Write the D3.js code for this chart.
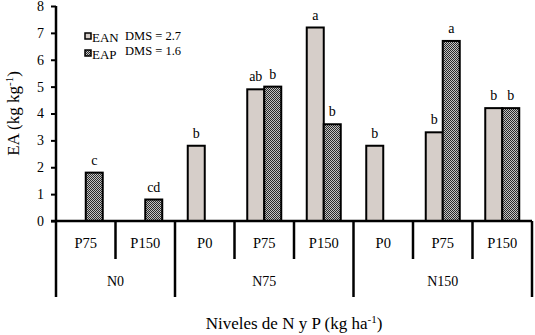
<!DOCTYPE html>
<html>
<head>
<meta charset="utf-8">
<script src="https://cdn.jsdelivr.net/npm/d3@7"></script>
<style>
  body { margin: 0; background: #fff; }
  svg text { font-family: "Liberation Serif", "Times New Roman", serif; }
</style>
</head>
<body>
<div id="chart"></div>
<script>
// groups of N levels and their P levels
const groups = ["N0", "N75", "N150"];
const categories = [
    { n: "N0", p: "P75" }, { n: "N0", p: "P150" },
    { n: "N75", p: "P0" }, { n: "N75", p: "P75" }, { n: "N75", p: "P150" },
    { n: "N150", p: "P0" }, { n: "N150", p: "P75" }, { n: "N150", p: "P150" },
];
const series = ["EAN", "EAP"];
const eanValues = [null, null, 2.8, 4.9, 7.2, 2.8, 3.3, 4.2];
const eapValues = [1.8, 0.8, null, 5.0, 3.6, null, 6.7, 4.2];
const eanLetters = ["", "", "b", "ab", "a", "b", "b", "b"];
const eapLetters = ["c", "cd", "", "b", "b", "", "a", "b"];
const dmsLabels = ["DMS = 2.7", "DMS = 1.6"];
const yTicks = [0, 1, 2, 3, 4, 5, 6, 7, 8];

const width = 535, height = 335;
const margin = { top: 6, right: 3, bottom: 114, left: 56 };
const plotBottom = height - margin.bottom;

const svg = d3.select("#chart").append("svg")
    .attr("width", width)
    .attr("height", height);

const defs = svg.append("defs");
const pat = defs.append("pattern")
    .attr("id", "checker")
    .attr("width", 2).attr("height", 2)
    .attr("patternUnits", "userSpaceOnUse");
pat.append("rect").attr("width", 2).attr("height", 2).attr("fill", "#c4c4c4");
pat.append("rect").attr("width", 1).attr("height", 1).attr("fill", "#2a2a2a");
pat.append("rect").attr("x", 1).attr("y", 1).attr("width", 1).attr("height", 1).attr("fill", "#2a2a2a");

const fills = { EAN: "#d6cec9", EAP: "url(#checker)" };

const x = d3.scaleBand()
    .domain(d3.range(categories.length))
    .range([margin.left, width - margin.right])
    .padding(0);

const xInner = d3.scaleBand()
    .domain(series)
    .range([0, x.bandwidth()])
    .paddingInner(0)
    .paddingOuter(0.75);

const y = d3.scaleLinear()
    .domain([0, 8])
    .range([plotBottom, margin.top]);

// bars
const rows = [];
categories.forEach((c, i) => {
    rows.push({ i, s: "EAN", v: eanValues[i], l: eanLetters[i] });
    rows.push({ i, s: "EAP", v: eapValues[i], l: eapLetters[i] });
});
const present = rows.filter(d => d.v != null);

svg.append("g").selectAll("rect")
    .data(present)
    .join("rect")
    .attr("x", d => x(d.i) + xInner(d.s))
    .attr("y", d => y(d.v))
    .attr("width", xInner.bandwidth())
    .attr("height", d => y(0) - y(d.v))
    .attr("fill", d => fills[d.s])
    .attr("stroke", "#000")
    .attr("stroke-width", 2);

svg.append("g").selectAll("text")
    .data(present.filter(d => d.l))
    .join("text")
    .attr("x", d => x(d.i) + xInner(d.s) + xInner.bandwidth() / 2)
    .attr("y", d => y(d.v) - 8)
    .attr("text-anchor", "middle")
    .attr("font-size", 14)
    .text(d => d.l);

// y axis
const yAxis = svg.append("g")
    .attr("transform", `translate(${margin.left},0)`)
    .call(d3.axisLeft(y).tickValues(yTicks).tickSize(5).tickPadding(7).tickFormat(d3.format("d")));
yAxis.selectAll("text").attr("font-size", 14).attr("fill", "#000");
yAxis.selectAll("line").attr("stroke", "#000").attr("stroke-width", 2);
yAxis.select(".domain").remove();

const lines = svg.append("g").attr("stroke", "#000").attr("stroke-width", 2.5);
const groupBottom = 297, catBottom = 259;
lines.append("line")
    .attr("x1", margin.left).attr("x2", margin.left)
    .attr("y1", margin.top).attr("y2", groupBottom);
lines.append("line")
    .attr("x1", margin.left - 5).attr("x2", width - margin.right)
    .attr("y1", plotBottom).attr("y2", plotBottom);

// category / group separators
const boundaries = d3.range(1, categories.length + 1);
boundaries.forEach(k => {
    const bx = k === categories.length ? width - margin.right : x(k);
    const isGroupEnd = k === categories.length || categories[k].n !== categories[k - 1].n;
    lines.append("line")
        .attr("x1", bx).attr("x2", bx)
        .attr("y1", plotBottom).attr("y2", isGroupEnd ? groupBottom : catBottom);
});

svg.append("g").selectAll("text")
    .data(categories)
    .join("text")
    .attr("x", (d, i) => x(i) + x.bandwidth() / 2)
    .attr("y", 248)
    .attr("text-anchor", "middle")
    .attr("font-size", 14.5)
    .text(d => d.p);

svg.append("g").selectAll("text")
    .data(groups)
    .join("text")
    .attr("x", g => {
        const idx = categories.map((c, i) => c.n === g ? i : -1).filter(i => i >= 0);
        return (x(idx[0]) + x(idx[idx.length - 1]) + x.bandwidth()) / 2;
    })
    .attr("y", 286)
    .attr("text-anchor", "middle")
    .attr("font-size", 14)
    .text(g => g);

// axis titles
const xt = svg.append("text")
    .attr("x", (margin.left + width - margin.right) / 2)
    .attr("y", 329)
    .attr("text-anchor", "middle")
    .attr("font-size", 17);
xt.append("tspan").text("Niveles de N y P (kg ha");
xt.append("tspan").attr("dy", -6).attr("font-size", 11).text("-1");
xt.append("tspan").attr("dy", 6).text(")");

const yt = svg.append("text")
    .attr("transform", `translate(19,${(margin.top + plotBottom) / 2}) rotate(-90)`)
    .attr("text-anchor", "middle")
    .attr("font-size", 17);
yt.append("tspan").text("EA (kg kg");
yt.append("tspan").attr("dy", -6).attr("font-size", 11).text("-1");
yt.append("tspan").attr("dy", 6).text(")");

// legend
const legend = svg.append("g").selectAll("g")
    .data(series)
    .join("g")
    .attr("transform", (d, i) => `translate(85,${33 + i * 17})`);
legend.append("rect")
    .attr("width", 6).attr("height", 6)
    .attr("fill", d => fills[d])
    .attr("stroke", "#000").attr("stroke-width", 1.5);
legend.append("text")
    .attr("x", 7).attr("y", 9)
    .attr("font-size", 13)
    .text(d => d);
legend.append("text")
    .attr("x", 40).attr("y", (d, i) => 7 - i * 2)
    .attr("font-size", 12.5)
    .text((d, i) => dmsLabels[i]);
</script>
</body>
</html>
